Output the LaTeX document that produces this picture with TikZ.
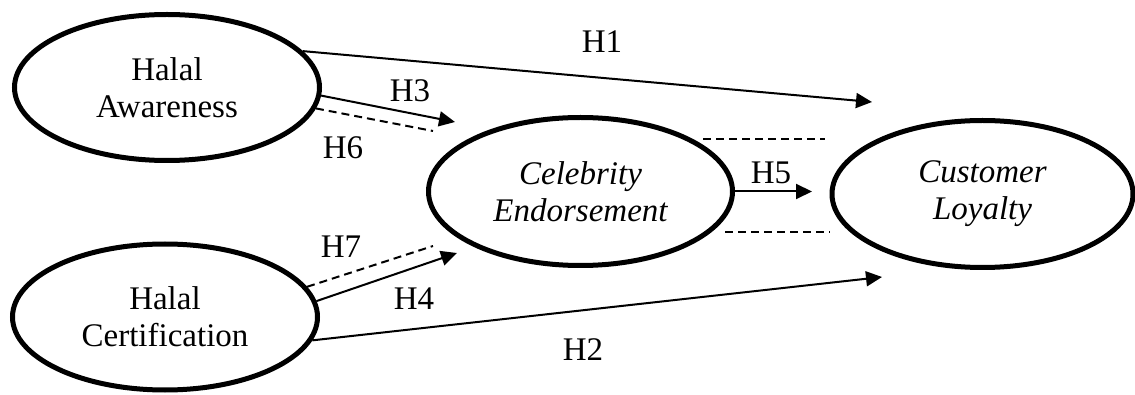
\documentclass[tikz,border=0pt]{standalone}
\usepackage{fontspec}
\setmainfont{Liberation Serif}
\usetikzlibrary{shapes.geometric,arrows.meta}
\begin{document}
\begin{tikzpicture}[x=1pt,y=-1pt,
  latent/.style={ellipse,draw,line width=5pt,inner sep=0pt,minimum width=305pt,minimum height=146pt,align=center,font=\fontsize{33}{37}\selectfont},
  arrowpath/.style={line width=2pt,-{Triangle[length=16pt,width=15pt]}},
  dashpath/.style={line width=2pt,dash pattern=on 8pt off 5pt},
  hyp/.style={font=\fontsize{33}{37}\selectfont,inner sep=0pt}]
\useasboundingbox (0,0) rectangle (1135,395);
% latent variables
\node[latent] (A) at (167,87.5) {Halal\\Awareness};
\node[latent] (B) at (165,317) {Halal\\Certification};
\node[latent,minimum width=304pt,minimum height=148pt,font=\fontsize{33}{37}\selectfont\itshape] (C) at (580.5,191.5) {Celebrity\\Endorsement};
\node[latent,minimum width=301pt,minimum height=147pt,font=\fontsize{33}{37}\selectfont\itshape] (D) at (982.5,194) {Customer\\Loyalty};
% free ends
\coordinate (h1e) at (872,102);
\coordinate (h3e) at (455,122);
\coordinate (h6e) at (433,131);
\coordinate (h7e) at (433,246);
\coordinate (h4e) at (457,253);
\coordinate (h2e) at (882,277);
\coordinate (h5e) at (812,191.5);
\coordinate (m1s) at (703,139);
\coordinate (m1e) at (825,139);
\coordinate (m2s) at (725,232);
\coordinate (m2e) at (830,232);
% paths
\draw[arrowpath] (A.15) -- (h1e);
\draw[arrowpath] (A.-3.5) -- (h3e);
\draw[dashpath] (A.-8) -- (h6e);
\draw[dashpath] (B.12) -- (h7e);
\draw[arrowpath] (B.6.7) -- (h4e);
\draw[arrowpath] (B.-9.4) -- (h2e);
\draw[arrowpath] (C.0) -- (h5e);
\draw[dashpath] (m1s) -- (m1e);
\draw[dashpath] (m2s) -- (m2e);
% labels
\node[hyp] (l1) at (602,42) {H1};
\node[hyp] (l3) at (410,91) {H3};
\node[hyp] (l6) at (343,148) {H6};
\node[hyp] (l7) at (341,247) {H7};
\node[hyp] (l4) at (414,299) {H4};
\node[hyp] (l5) at (771,173) {H5};
\node[hyp] (l2) at (583,350) {H2};
\end{tikzpicture}
\end{document}
